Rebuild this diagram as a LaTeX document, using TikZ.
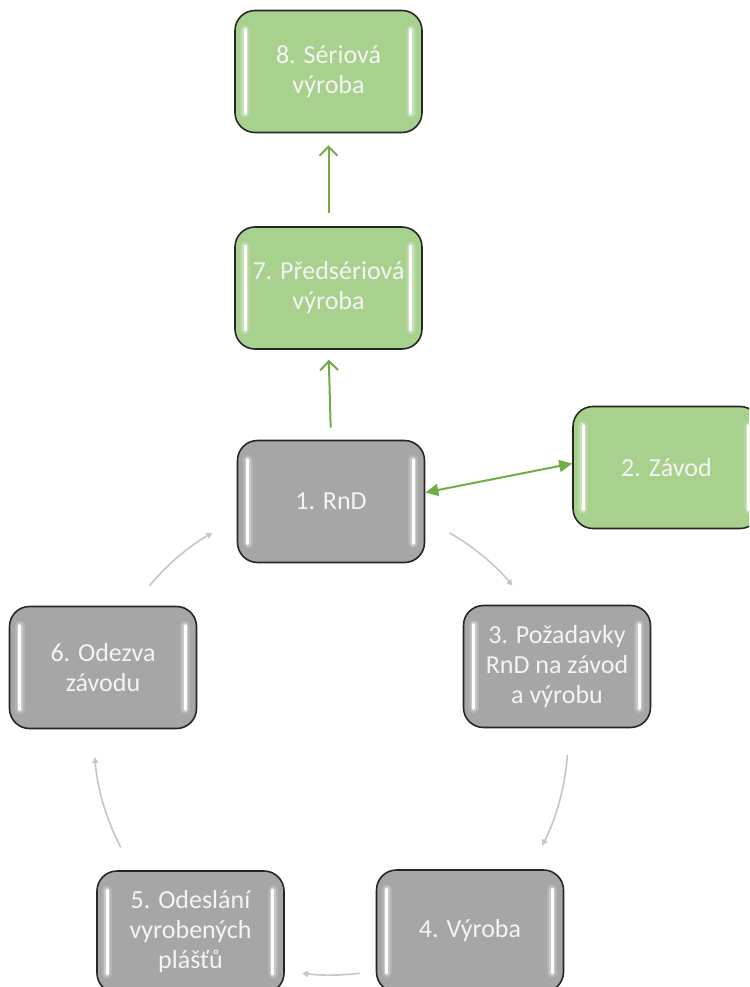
\documentclass[tikz,border=0pt]{standalone}
\usepackage{fontspec}
\setmainfont{Carlito}
\usetikzlibrary{arrows.meta,calc}

\definecolor{boxgreen}{HTML}{A9D18E}
\definecolor{boxgray}{HTML}{A6A6A6}
\definecolor{linkgreen}{HTML}{70AD47}
\definecolor{cyclegray}{HTML}{C6C6C6}
\definecolor{labelwhite}{HTML}{F4F4F4}

\tikzset{
  stage/.style={draw=black!85, line width=1.6pt, rounded corners=20pt,
    minimum width=187pt, minimum height=122pt, inner sep=0pt,
    text=labelwhite, align=center, font=\fontsize{26}{30}\selectfont},
  greenstage/.style={stage, fill=boxgreen},
  graystage/.style={stage, fill=boxgray},
  glowwide/.style={white, opacity=0.15, line width=10pt, line cap=round},
  glownarrow/.style={white, opacity=0.3, line width=6pt, line cap=round},
  shine/.style={white, line width=3pt, line cap=round},
  greenlink/.style={linkgreen, line width=2pt},
  cyclelink/.style={cyclegray, line width=1.6pt,
    -{Triangle[length=6pt,width=6pt]}},
}

% soft white streaks along the inner left and right edges of a box
\newcommand\streak[2]{%
  \foreach \s in {glowwide,glownarrow,shine}
    {\draw[\s] #1 -- #2;}%
}
\newcommand\glossy[1]{%
  \streak{($(#1.north west)+(11,20)$)}{($(#1.south west)+(11,-20)$)}%
  \streak{($(#1.north east)+(-12,20)$)}{($(#1.south east)+(-12,-20)$)}%
}

\begin{document}
\begin{tikzpicture}[x=1pt,y=-1pt]
  \useasboundingbox (0,0) rectangle (749,987);
  \clip (0,0) rectangle (749,987);

  % stages
  \node[greenstage] (serial)  at (328.5,71.5) {8. Sériová\\výroba};
  \node[greenstage] (pre)     at (328.5,288)  {7. Předsériová\\výroba};
  \node[graystage]  (rnd)     at (331,501.5)  {1. RnD};
  \node[greenstage] (factory) at (666.5,467.5) {2. Závod};
  \node[graystage]  (demand)  at (557,666.5)  {3. Požadavky\\RnD na závod\\a výrobu};
  \node[graystage]  (make)    at (470,931)    {4. Výroba};
  \node[graystage]  (ship)    at (190.5,932)  {5. Odeslání\\vyrobených\\plášťů};
  \node[graystage]  (reply)   at (103,667.5)  {6. Odezva\\závodu};

  \foreach \b in {serial,pre,rnd,factory,demand,make,ship,reply} {\glossy{\b}}

  % upward path to serial production
  \draw[greenlink, -{Straight Barb[length=9pt,width=18pt]},
        shorten <=12pt, shorten >=10pt] (rnd.north) -- (pre.south);
  \draw[greenlink, -{Straight Barb[length=9pt,width=18pt]},
        shorten <=13pt, shorten >=12pt] (pre.north) -- (serial.south);

  % link between RnD and the plant
  \draw[greenlink, {Triangle[length=13pt,width=12pt]}-{Triangle[length=13pt,width=12pt]}]
    ($(rnd.east)+(0,-9)$) -- ($(factory.west)+(0,-4)$);

  % the feedback cycle around the hub
  \coordinate (hub) at (331,738);
  \draw[cyclelink] ($(hub)+(-60:237)$) arc[start angle=-60, end angle=-40, radius=237];
  \draw[cyclelink] ($(hub)+(4:237)$) arc[start angle=4, end angle=27, radius=237];
  \draw[cyclelink] ($(hub)+(83:237)$) arc[start angle=83, end angle=97, radius=237];
  \draw[cyclelink] ($(hub)+(152.5:237)$) arc[start angle=152.5, end angle=175.4, radius=237];
  \draw[cyclelink] ($(hub)+(-140:237)$) arc[start angle=-140, end angle=-120, radius=237];
\end{tikzpicture}
\end{document}
